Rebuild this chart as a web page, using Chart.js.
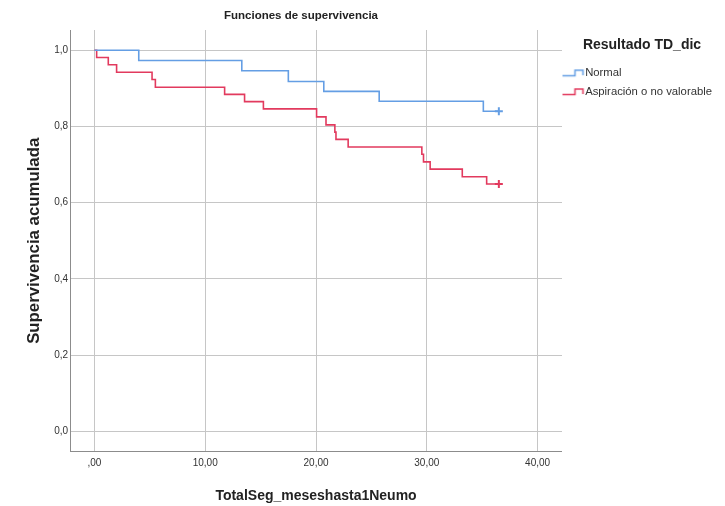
<!DOCTYPE html>
<html lang="es">
<head>
<meta charset="utf-8" />
<title>Funciones de supervivencia</title>
<script src="https://cdn.jsdelivr.net/npm/chart.js"></script>
<style>
  html, body { margin: 0; padding: 0; background: #fff; }
  #wrap { width: 725px; height: 506px; }
</style>
</head>
<body>
<div id="wrap"><canvas id="chart"></canvas></div>
<script>
// Kaplan-Meier steps (time in months, cumulative survival)
var normalTimes = [0, 4.0, 13.3, 17.5, 20.7, 25.7, 35.1, 36.5];
var normalSurv  = [1.0, 0.973, 0.946, 0.918, 0.892, 0.866, 0.840, 0.840];
var normalCensorTimes = [36.5];
var normalCensorSurv  = [0.840];

var aspTimes = [0, 0.2, 1.25, 2.0, 5.2, 5.5, 11.75, 13.55, 15.25, 20.05, 20.9, 21.7, 21.8, 22.9, 29.55, 29.7, 30.3, 33.2, 35.4, 36.5];
var aspSurv  = [1.0, 0.981, 0.962, 0.942, 0.923, 0.903, 0.884, 0.865, 0.846, 0.825, 0.804, 0.785, 0.766, 0.746, 0.727, 0.707, 0.688, 0.668, 0.649, 0.649];
var aspCensorTimes = [36.5];
var aspCensorSurv  = [0.649];

var seriesNames = ['Normal', 'Aspiración o no valorable'];
var xTicks = [0, 10, 20, 30, 40];
var xTickLabels = [',00', '10,00', '20,00', '30,00', '40,00'];
var yTicks = [0, 0.2, 0.4, 0.6, 0.8, 1.0];
var yTickLabels = ['0,0', '0,2', '0,4', '0,6', '0,8', '1,0'];

var blue = 'rgb(100,158,228)';
var red = 'rgb(226,58,94)';
var sans = "'Liberation Sans', Arial, sans-serif";

function pts(xs, ys) {
    return xs.map(function (x, i) { return { x: x, y: ys[i] }; });
}

// little step glyph used as legend symbol
function stepIcon(color) {
    var c = document.createElement('canvas');
    c.width = 32; c.height = 10;
    var g = c.getContext('2d');
    g.strokeStyle = color;
    g.lineWidth = 1.5;
    g.beginPath();
    g.moveTo(4, 7.5);
    g.lineTo(16.5, 7.5);
    g.lineTo(16.5, 2);
    g.lineTo(24.5, 2);
    g.lineTo(24.5, 7);
    g.stroke();
    return c;
}
var icons = [stepIcon(blue), stepIcon(red)];

var titleOffset = {
    id: 'titleOffset',
    afterLayout: function (chart, args, opts) {
        var t = chart.titleBlock;
        if (!t) return;
        var d = opts.center - (t.left + t.right) / 2;
        t.left += d;
        t.right += d;
    }
};

function tickSetter(list) {
    return function (scale) {
        scale.ticks = list.map(function (v) { return { value: v }; });
    };
}

new Chart(document.getElementById('chart'), {
    type: 'scatter',
    data: {
        datasets: [
            {
                label: seriesNames[0],
                data: pts(normalTimes, normalSurv),
                showLine: true,
                stepped: 'before',
                borderColor: blue,
                backgroundColor: blue,
                borderWidth: 1.6,
                pointRadius: 0
            },
            {
                label: seriesNames[1],
                data: pts(aspTimes, aspSurv),
                showLine: true,
                stepped: 'before',
                borderColor: red,
                backgroundColor: red,
                borderWidth: 1.6,
                pointRadius: 0
            },
            {
                label: 'censor1',
                data: pts(normalCensorTimes, normalCensorSurv),
                pointStyle: 'cross',
                pointRadius: 4,
                borderWidth: 2,
                borderColor: blue
            },
            {
                label: 'censor2',
                data: pts(aspCensorTimes, aspCensorSurv),
                pointStyle: 'cross',
                pointRadius: 4,
                borderWidth: 2,
                borderColor: red
            }
        ]
    },
    options: {
        responsive: true,
        maintainAspectRatio: false,
        animation: false,
        layout: { padding: { left: 16, right: 3, top: 0, bottom: 0 } },
        scales: {
            x: {
                type: 'linear',
                min: -2.2,
                max: 42.2,
                afterBuildTicks: tickSetter(xTicks),
                grid: { color: '#c6c6c6', drawTicks: false },
                border: { color: '#8c8c8c' },
                ticks: {
                    padding: 6,
                    color: '#333',
                    font: { family: sans, size: 10 },
                    callback: function (v) { return xTickLabels[xTicks.indexOf(v)]; }
                },
                title: {
                    display: true,
                    text: 'TotalSeg_meseshasta1Neumo',
                    color: '#222',
                    font: { family: sans, size: 14, weight: 'bold' },
                    padding: { top: 12, bottom: 1.6 }
                }
            },
            y: {
                type: 'linear',
                min: -0.053,
                max: 1.053,
                afterBuildTicks: tickSetter(yTicks),
                grid: { color: '#c6c6c6', drawTicks: false },
                border: { color: '#8c8c8c' },
                ticks: {
                    padding: 2,
                    color: '#333',
                    font: { family: sans, size: 10 },
                    callback: function (v) { return yTickLabels[yTicks.indexOf(v)]; }
                },
                title: {
                    display: true,
                    text: 'Supervivencia acumulada',
                    color: '#222',
                    font: { family: sans, size: 16.8, weight: 'bold' },
                    padding: { top: 8, bottom: 8 }
                }
            }
        },
        plugins: {
            title: {
                display: true,
                text: 'Funciones de supervivencia',
                color: '#222',
                font: { family: sans, size: 11.5, weight: 'bold' },
                padding: { top: 9.2, bottom: 7 }
            },
            titleOffset: { center: 301 },
            legend: {
                position: 'right',
                align: 'start',
                fullSize: false,
                title: {
                    display: true,
                    text: 'Resultado TD_dic',
                    color: '#222',
                    font: { family: sans, size: 14, weight: 'bold' },
                    padding: { top: 8, bottom: 5.3 }
                },
                labels: {
                    usePointStyle: true,
                    pointStyleWidth: 10,
                    padding: 7.5,
                    color: '#333',
                    font: { family: sans, size: 11.3 },
                    generateLabels: function (chart) {
                        var items = Chart.defaults.plugins.legend.labels.generateLabels(chart);
                        return items.filter(function (it) { return it.datasetIndex < 2; })
                            .map(function (it) { it.pointStyle = icons[it.datasetIndex]; return it; });
                    }
                }
            },
            tooltip: { enabled: false }
        }
    },
    plugins: [titleOffset]
});
</script>
</body>
</html>
